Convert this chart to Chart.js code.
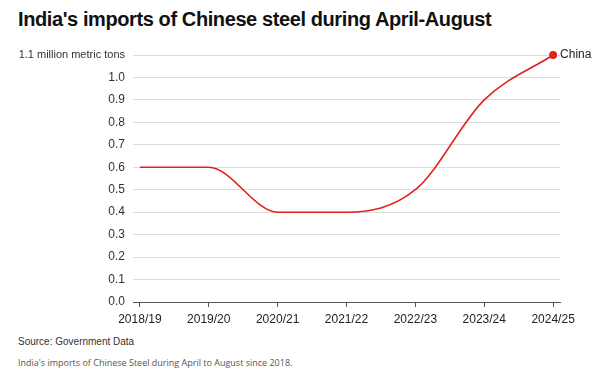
<!DOCTYPE html>
<html>
<head>
<meta charset="utf-8">
<script src="https://cdn.jsdelivr.net/npm/chart.js@4"></script>
<style>
  body { margin: 0; width: 600px; height: 372px; background: #fff; position: relative; overflow: hidden; }
  #title { position: absolute; left: 18px; top: 8px; font: bold 20px "Liberation Sans", Arial, sans-serif; color: #111; letter-spacing: -0.4px; }
  #wrap { position: absolute; left: 0; top: 0; width: 600px; height: 334px; }
  #source { position: absolute; left: 18px; top: 336px; font: 10px "Liberation Sans", Arial, sans-serif; color: #333; }
  #note { position: absolute; left: 18px; top: 356px; font: 9px "Open Sans", sans-serif; color: #555; }
</style>
</head>
<body>
<div id="title">India's imports of Chinese steel during April-August</div>
<div id="wrap"><canvas id="chart"></canvas></div>
<div id="source">Source: Government Data</div>
<div id="note">India's imports of Chinese Steel during April to August since 2018.</div>
<script>
const years = ['2018/19', '2019/20', '2020/21', '2021/22', '2022/23', '2023/24', '2024/25'];
const chinaImports = [0.6, 0.6, 0.4, 0.4, 0.5, 0.9, 1.1];
const seriesName = 'China';
const topTickLabel = '1.1 million metric tons';

const endLabel = {
  id: 'endLabel',
  afterDatasetsDraw(chart) {
    const meta = chart.getDatasetMeta(0);
    const last = meta.data[meta.data.length - 1];
    const ctx = chart.ctx;
    ctx.save();
    ctx.font = '12px "Liberation Sans", Arial, sans-serif';
    ctx.fillStyle = '#222';
    ctx.textBaseline = 'middle';
    ctx.fillText(seriesName, last.x + 7, last.y);
    ctx.restore();
  }
};

const isTop = (v) => Math.abs(v - 1.1) < 1e-6;

new Chart(document.getElementById('chart'), {
  type: 'line',
  data: {
    datasets: [{
      label: seriesName,
      data: chinaImports.map((v, i) => ({ x: i, y: v })),
      borderColor: '#e3211c',
      backgroundColor: '#e3211c',
      borderWidth: 1.6,
      cubicInterpolationMode: 'monotone',
      pointRadius: chinaImports.map((v, i) => i === chinaImports.length - 1 ? 3.2 : 0),
      pointHoverRadius: 0,
      clip: false
    }]
  },
  options: {
    responsive: true,
    maintainAspectRatio: false,
    animation: false,
    layout: { padding: { top: 55, right: 40, left: 0, bottom: 0 } },
    plugins: { legend: { display: false }, tooltip: { enabled: false } },
    scales: {
      x: {
        type: 'linear',
        min: -0.1,
        max: 6.1,
        afterFit(scale) { scale.height = 32; },
        afterBuildTicks(scale) { scale.ticks = years.map((y, i) => ({ value: i })); },
        ticks: {
          callback: (v) => years[v],
          color: '#222',
          font: { family: '"Liberation Sans", Arial, sans-serif', size: 12 },
          padding: 5,
          maxRotation: 0
        },
        grid: { drawOnChartArea: false, drawTicks: true, tickLength: 5, color: '#555' },
        border: { color: '#555', width: 1 }
      },
      y: {
        min: 0,
        max: 1.1,
        afterFit(scale) { scale.width = 133; },
        ticks: {
          stepSize: 0.1,
          callback: (v) => isTop(v) ? topTickLabel : v.toFixed(1),
          color: '#333',
          font: (c) => ({ family: '"Liberation Sans", Arial, sans-serif', size: c.tick && isTop(c.tick.value) ? 11 : 12 }),
          padding: 8
        },
        grid: { color: '#dddddd', lineWidth: 1, drawTicks: false },
        border: { display: false }
      }
    }
  },
  plugins: [endLabel]
});
</script>
</body>
</html>
